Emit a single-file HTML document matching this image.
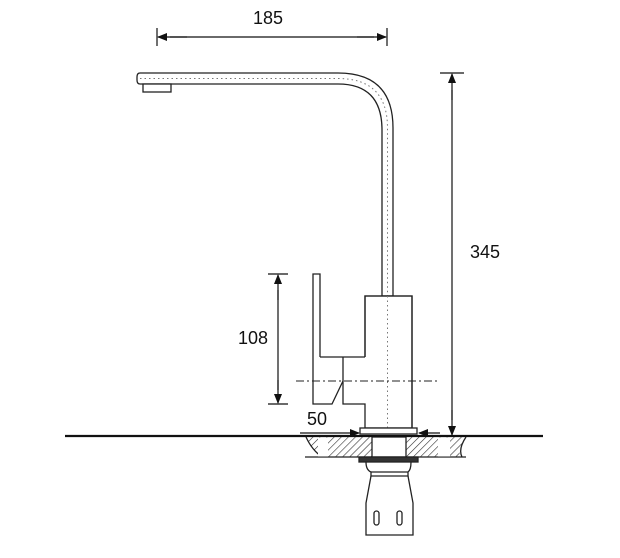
<!DOCTYPE html>
<html><head><meta charset="utf-8"><style>
html,body{margin:0;padding:0;background:#fff;}
svg{display:block;}
text{font-family:"Liberation Sans",Arial,sans-serif;font-size:18px;fill:#111;}
</style></head><body>
<svg width="620" height="558" viewBox="0 0 620 558" xmlns="http://www.w3.org/2000/svg">
<defs>
<pattern id="h" width="5" height="5" patternUnits="userSpaceOnUse" patternTransform="rotate(45)">
<line x1="0" y1="0" x2="0" y2="5" stroke="#333" stroke-width="1.2"/>
</pattern>
<marker id="a" markerWidth="10" markerHeight="10" refX="9" refY="5" orient="auto" markerUnits="userSpaceOnUse">
<path d="M0,1 L10,5 L0,9 Z" fill="#111"/>
</marker>
</defs>
<g fill="none" stroke="#222" stroke-width="1.3">
<!-- spout -->
<path d="M140,73 L338,73 Q393,73 393,128 L393,296 L382,296 L382,130 Q382,84 338,84 L140,84 Q137,84 137,80 L137,77 Q137,73 140,73 Z" fill="#fff"/>
<rect x="143" y="84" width="28" height="8" fill="#fff"/>
<path d="M140,78.5 L338,78.5 Q387.5,78.5 387.5,128 L387.5,430" stroke="#777" stroke-width="1" stroke-dasharray="1.5,3"/>
<!-- body -->
<path d="M365,357 L365,296 L412,296 L412,428 L365,428 L365,404 L343,404 L343,357" fill="#fff"/>
<path d="M365,357 L365,296 L412,296 L412,428"/>
<path d="M387.5,296 L387.5,430" stroke="#777" stroke-width="1" stroke-dasharray="1.5,3"/>
<path d="M320,357 L320,274 L313,274 L313,404 L332,404 L343,381"/>
<line x1="320" y1="357" x2="365" y2="357"/>
<line x1="296" y1="381" x2="438" y2="381" stroke-width="1" stroke-dasharray="8,3,2,3"/>
<rect x="360" y="428" width="57" height="6" fill="#fff"/>
<!-- sink -->
<path d="M306,437 Q312,450 322,457 L460,457 Q458,449 466,437 Z" fill="url(#h)" stroke="none"/>
<path d="M306,437 Q312,450 322,457 M305,457 L466,457 M466,437 Q458,449 462,457"/>
<rect x="318" y="437.5" width="10" height="19" fill="#fff" stroke="none"/>
<rect x="438" y="437.5" width="12" height="19" fill="#fff" stroke="none"/>
<rect x="372" y="437" width="34" height="20" fill="#fff"/>
<rect x="359" y="457" width="59" height="5" fill="#333"/>
<!-- lower part -->
<path d="M366,462 Q366,470 371,472 L371,476 L408,476 L408,472 Q411,470 411,462"/>
<line x1="371" y1="472" x2="408" y2="472"/>
<path d="M371,476 L366,503 L366,535 L413,535 L413,503 L408,476"/>
<rect x="374" y="511" width="5" height="14" rx="2.5"/>
<rect x="397" y="511" width="5" height="14" rx="2.5"/>
</g>
<line x1="65" y1="436" x2="543" y2="436" stroke="#111" stroke-width="2.2"/>
<!-- dimensions -->
<g stroke="#111" stroke-width="1.2" fill="none">
<line x1="157" y1="28" x2="157" y2="46"/><line x1="387" y1="28" x2="387" y2="46"/>
<line x1="187" y1="37" x2="158" y2="37" marker-end="url(#a)"/><line x1="357" y1="37" x2="386" y2="37" marker-end="url(#a)"/>
<line x1="170" y1="37" x2="374" y2="37"/>
<line x1="440" y1="73" x2="464" y2="73"/>
<line x1="452" y1="100" x2="452" y2="74" marker-end="url(#a)"/><line x1="452" y1="410" x2="452" y2="435" marker-end="url(#a)"/>
<line x1="452" y1="90" x2="452" y2="420"/>
<line x1="268" y1="274" x2="288" y2="274"/><line x1="268" y1="404" x2="288" y2="404"/>
<line x1="278" y1="300" x2="278" y2="275" marker-end="url(#a)"/><line x1="278" y1="380" x2="278" y2="403" marker-end="url(#a)"/>
<line x1="278" y1="290" x2="278" y2="390"/>
<line x1="300" y1="433" x2="359" y2="433" marker-end="url(#a)"/>
<line x1="440" y1="433" x2="419" y2="433" marker-end="url(#a)"/>
</g>
<text x="268" y="24" text-anchor="middle">185</text>
<text x="485" y="258" text-anchor="middle">345</text>
<text x="253" y="344" text-anchor="middle">108</text>
<text x="317" y="425" text-anchor="middle">50</text>
</svg>
</body></html>
